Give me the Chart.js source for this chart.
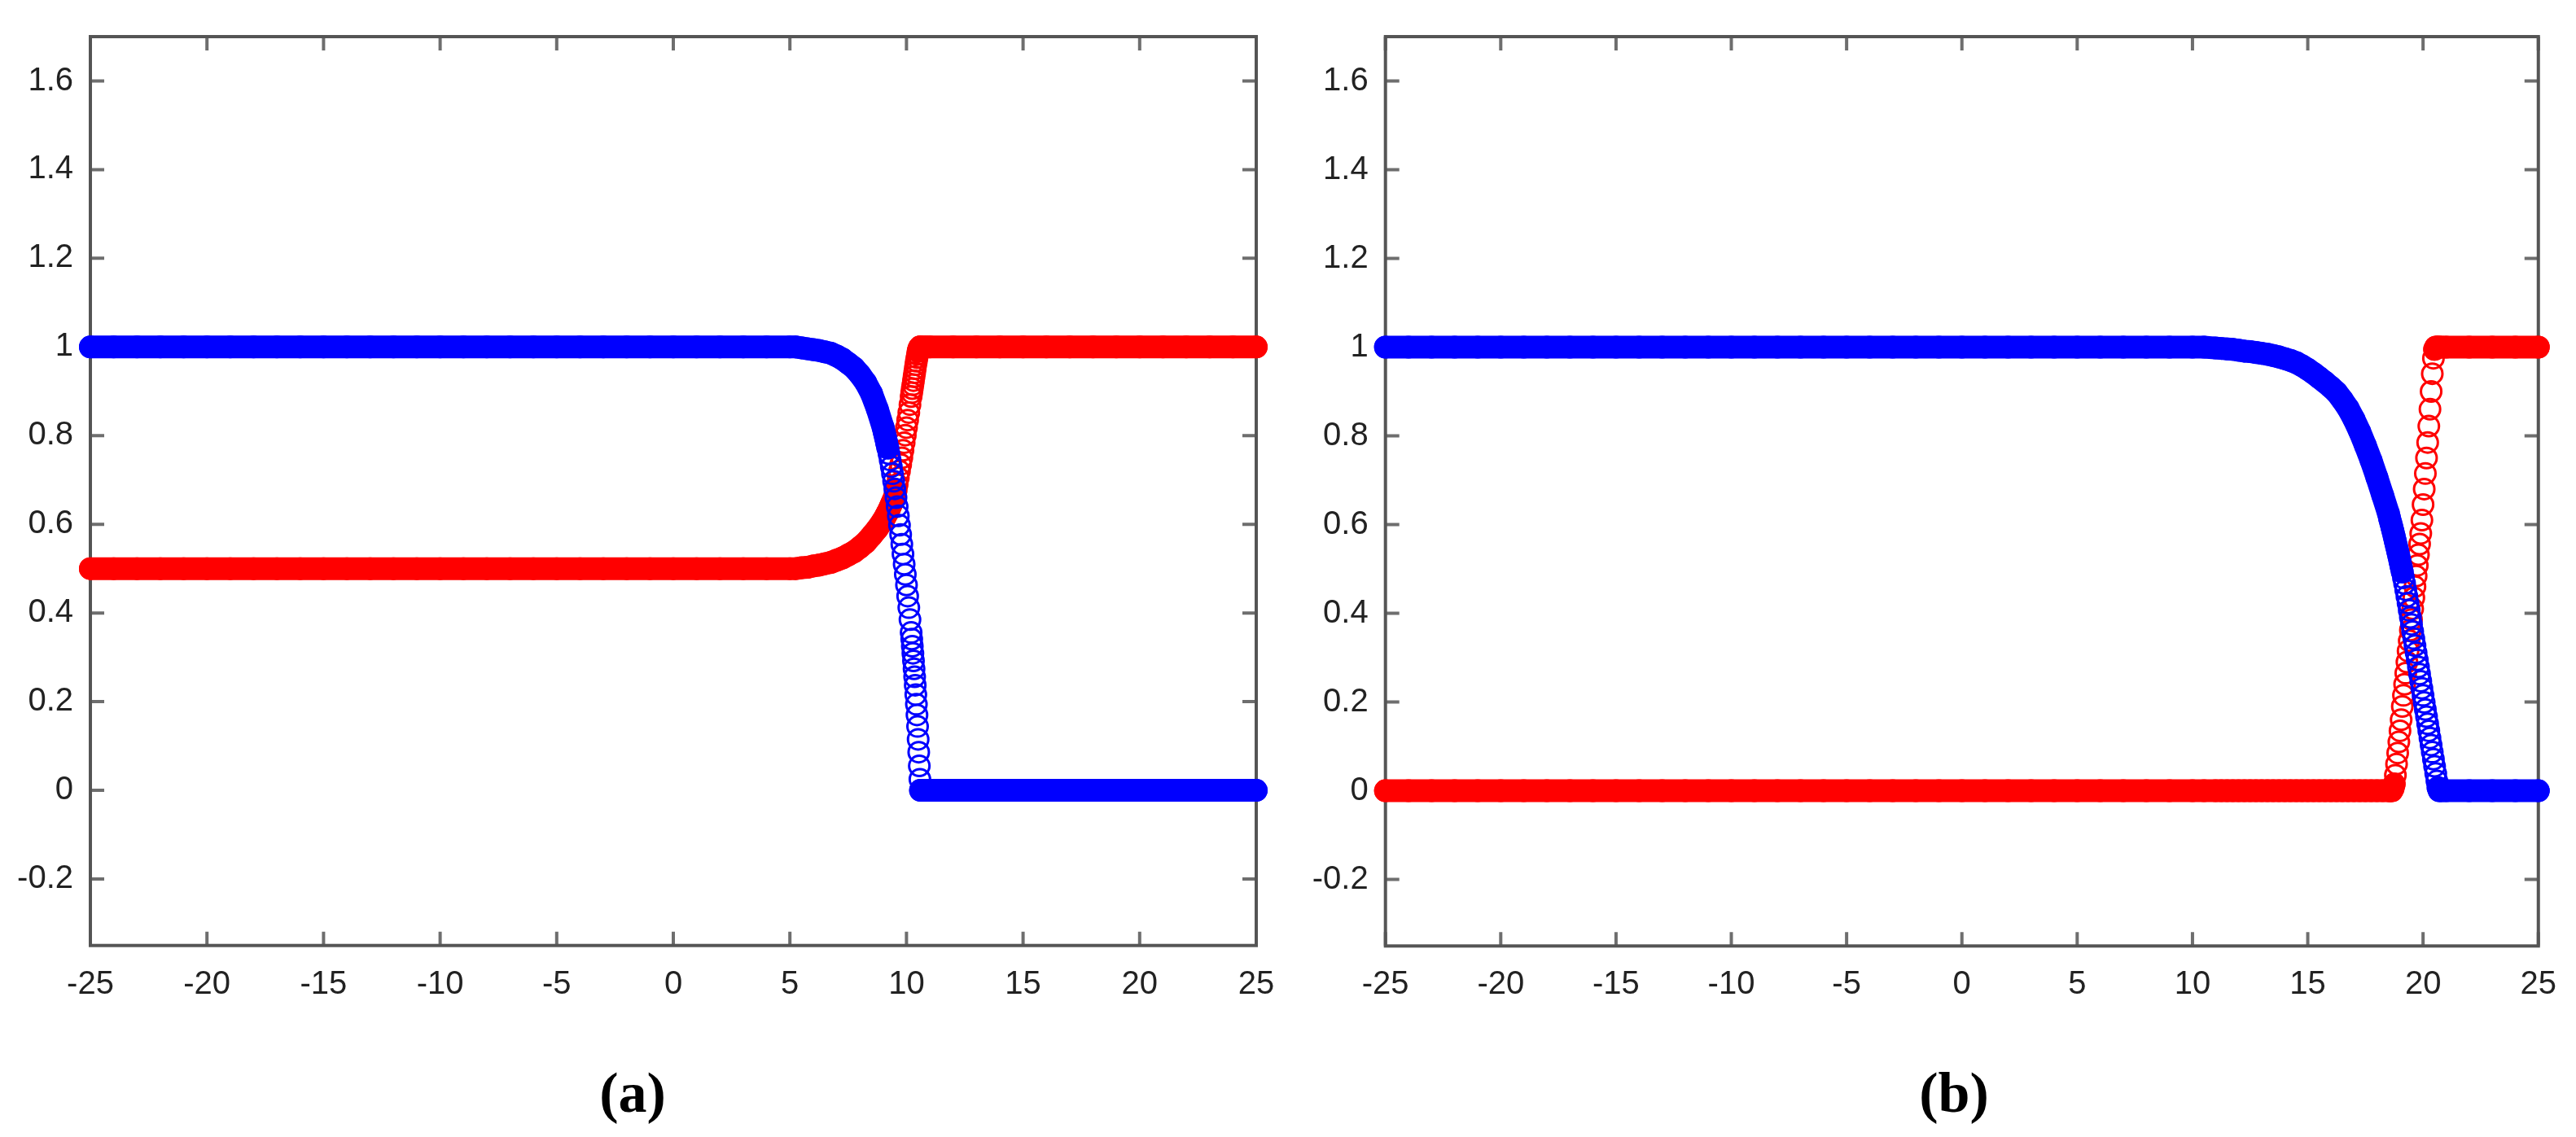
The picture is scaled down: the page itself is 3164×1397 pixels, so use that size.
<!DOCTYPE html>
<html>
<head>
<meta charset="utf-8">
<script src="https://cdn.jsdelivr.net/npm/chart.js@4.4.0/dist/chart.umd.min.js"></script>
<style>
  html, body { margin: 0; padding: 0; background: #fff; }
  body { width: 3164px; height: 1397px; position: relative; overflow: hidden; }
  canvas { position: absolute; top: 0; }
  #chartA { left: 0; }
  #chartB { left: 1590px; }
  .cap { position: absolute; top: 1308px; font: bold 70px "Liberation Serif", "Times New Roman", serif; line-height: 1; color: #000; transform: translateX(-50%); }
</style>
</head>
<body>
<canvas id="chartA" width="1590" height="1290"></canvas>
<canvas id="chartB" width="1574" height="1290"></canvas>
<div class="cap" style="left:777px">(a)</div>
<div class="cap" style="left:2400px">(b)</div>

<script>
// tick labels (same on both panels)
const xTicks = [-25, -20, -15, -10, -5, 0, 5, 10, 15, 20, 25];
const yTicks = [-0.2, 0, 0.2, 0.4, 0.6, 0.8, 1, 1.2, 1.4, 1.6];

// panel (a)
const xA = [
  -25,-24,-23,-22,-21,-20,-19,-18,-17,-16,-15,-14,-13,-12,-11,-10,-9,-8,-7,-6,-5,-4,-3,-2,-1,0,1,2,3,4,5,
  5.25,5.5,5.75,6,6.25,6.5,6.75,7,7.25,7.5,7.75,8,8.25,8.5,8.75,
  9,9.05,9.1,9.15,9.2,9.25,9.3,9.35,9.4,9.45,9.5,9.55,9.6,9.65,9.7,9.75,9.8,9.85,9.9,9.95,
  10,10.05,10.1,10.15,10.2,10.225,10.25,10.275,10.3,10.325,10.35,10.375,10.4,10.425,10.45,10.475,10.5,10.525,10.55,10.575,10.6,
  10.8,11,12,13,14,15,16,17,18,19,20,21,22,23,24,25
];
const blueA = [
  1,1,1,1,1,1,1,1,1,1,1,1,1,1,1,1,1,1,1,1,1,1,1,1,1,1,1,1,1,1,1,
  1,0.998,0.996,0.994,0.992,0.989,0.986,0.98,0.973,0.963,0.953,0.938,0.92,0.895,0.86,
  0.818,0.807,0.796,0.784,0.772,0.759,0.745,0.73,0.714,0.697,0.68,0.66,0.64,0.619,0.598,0.577,0.555,0.533,0.51,0.487,
  0.463,0.438,0.412,0.385,0.356,0.341,0.325,0.309,0.292,0.274,0.256,0.237,0.216,0.194,0.17,0.144,0.115,0.086,0.055,0.025,0,
  0,0,0,0,0,0,0,0,0,0,0,0,0,0,0,0
];
const redA = [
  0.5,0.5,0.5,0.5,0.5,0.5,0.5,0.5,0.5,0.5,0.5,0.5,0.5,0.5,0.5,0.5,0.5,0.5,0.5,0.5,0.5,0.5,0.5,0.5,0.5,0.5,0.5,0.5,0.5,0.5,0.5,
  0.5,0.502,0.503,0.506,0.508,0.511,0.514,0.519,0.524,0.531,0.538,0.548,0.559,0.574,0.59,
  0.609,0.613,0.618,0.623,0.628,0.633,0.639,0.645,0.651,0.657,0.664,0.676,0.69,0.705,0.72,0.735,0.75,0.767,0.784,0.801,
  0.818,0.835,0.852,0.87,0.888,0.897,0.906,0.915,0.924,0.933,0.942,0.951,0.96,0.968,0.976,0.983,0.99,0.995,0.998,1,1,
  1,1,1,1,1,1,1,1,1,1,1,1,1,1,1,1
];

// panel (b)
const xB = [
  -25,-24,-23,-22,-21,-20,-19,-18,-17,-16,-15,-14,-13,-12,-11,-10,-9,-8,-7,-6,-5,-4,-3,-2,-1,0,1,2,3,4,5,6,7,8,9,10,
  10.5,11,11.25,11.5,11.75,12,12.25,12.5,12.75,13,13.25,13.5,13.75,14,14.25,14.5,14.75,15,15.25,15.5,15.75,16,16.25,16.5,16.75,17,17.25,17.5,17.75,18,18.25,18.5,
  18.55,18.6,18.65,18.7,18.75,18.8,18.85,18.9,18.95,19,
  19.05,19.1,19.15,19.2,19.25,19.3,19.35,19.4,19.45,19.5,19.55,19.6,19.65,19.7,19.75,19.8,19.85,19.9,19.95,20,
  20.05,20.1,20.15,20.2,20.25,20.3,20.35,20.4,20.45,20.5,20.55,20.6,20.65,20.7,
  20.8,21,22,23,24,25
];
const blueB = [
  1,1,1,1,1,1,1,1,1,1,1,1,1,1,1,1,1,1,1,1,1,1,1,1,1,1,1,1,1,1,1,1,1,1,1,1,
  1,0.998,0.997,0.996,0.995,0.993,0.991,0.99,0.988,0.986,0.984,0.981,0.978,0.974,0.97,0.965,0.958,0.95,0.941,0.931,0.921,0.91,0.898,0.881,0.862,0.838,0.81,0.778,0.744,0.706,0.666,0.625,
  0.614,0.604,0.594,0.584,0.573,0.562,0.551,0.54,0.529,0.517,
  0.505,0.493,0.48,0.467,0.453,0.438,0.423,0.407,0.391,0.375,0.359,0.343,0.327,0.311,0.295,0.279,0.263,0.247,0.231,0.215,
  0.199,0.183,0.167,0.151,0.135,0.119,0.103,0.087,0.071,0.055,0.039,0.022,0.007,0,
  0,0,0,0,0,0
];
const redB = [
  0,0,0,0,0,0,0,0,0,0,0,0,0,0,0,0,0,0,0,0,0,0,0,0,0,0,0,0,0,0,0,0,0,0,0,0,
  0,0,0,0,0,0,0,0,0,0,0,0,0,0,0,0,0,0,0,0,0,0,0,0,0,0,0,0,0,0,0,0,
  0,0,0,0.005,0.015,0.035,0.06,0.085,0.11,0.135,
  0.16,0.19,0.215,0.24,0.265,0.29,0.315,0.338,0.362,0.386,0.41,0.435,0.46,0.484,0.508,0.532,0.556,0.58,0.61,0.645,
  0.68,0.715,0.75,0.785,0.822,0.86,0.9,0.94,0.975,0.995,1,1,1,1,
  1,1,1,1,1,1
];

[[xA, blueA, redA], [xB, blueB, redB]].forEach(([x, b, r]) => {
  if (x.length !== b.length || x.length !== r.length) console.error('length mismatch', x.length, b.length, r.length);
});

const BLUE = '#0000ff';
const RED = '#ff0000';
const NONE = 'rgba(0,0,0,0)';

function pts(xs, ys) {
  return xs.map((x, i) => ({ x: x, y: ys[i] }));
}

// the dense markers of the original merge into a solid band where the curve is flat,
// so those stretches get a thick line under the hollow circles
function series(xs, ys, color) {
  return {
    data: pts(xs, ys),
    showLine: true,
    borderColor: color,
    borderWidth: 28,
    borderCapStyle: 'round',
    borderJoinStyle: 'round',
    pointRadius: 12.5,
    pointBorderWidth: 3,
    pointBorderColor: color,
    pointBackgroundColor: NONE,
    clip: false,
    segment: {
      borderColor: ctx => {
        const s = (ctx.p1.parsed.y - ctx.p0.parsed.y) / (ctx.p1.parsed.x - ctx.p0.parsed.x);
        return Math.abs(s) < 0.25 ? color : NONE;
      }
    }
  };
}

// box round the plot with inward ticks on all four sides
const frameTicks = {
  id: 'frameTicks',
  beforeDatasetsDraw(chart) {
    const { ctx, chartArea: a, scales } = chart;
    const tl = 17;
    ctx.save();
    ctx.strokeStyle = '#6e6e6e';
    ctx.lineWidth = 4;
    xTicks.forEach(v => {
      const px = scales.x.getPixelForValue(v);
      ctx.beginPath();
      ctx.moveTo(px, a.bottom); ctx.lineTo(px, a.bottom - tl);
      ctx.moveTo(px, a.top); ctx.lineTo(px, a.top + tl);
      ctx.stroke();
    });
    yTicks.forEach(v => {
      const py = scales.y.getPixelForValue(v);
      ctx.beginPath();
      ctx.moveTo(a.left, py); ctx.lineTo(a.left + tl, py);
      ctx.moveTo(a.right, py); ctx.lineTo(a.right - tl, py);
      ctx.stroke();
    });
    ctx.strokeStyle = '#555';
    ctx.lineWidth = 4;
    ctx.strokeRect(a.left, a.top, a.right - a.left, a.bottom - a.top);
    ctx.restore();
  }
};

function makeChart(id, xs, blue, red, box) {
  const tickFont = { family: 'Liberation Sans', size: 40 };
  return new Chart(document.getElementById(id), {
    type: 'scatter',
    data: {
      datasets: [series(xs, blue, BLUE), series(xs, red, RED)]
    },
    options: {
      responsive: false,
      animation: false,
      events: [],
      layout: { padding: { left: 0, top: box.top, right: box.right, bottom: 0 } },
      plugins: { legend: { display: false }, tooltip: { enabled: false } },
      scales: {
        x: {
          type: 'linear', min: -25, max: 25,
          grid: { display: false, drawTicks: false },
          border: { display: false },
          afterBuildTicks: s => { s.ticks = xTicks.map(v => ({ value: v })); },
          afterFit: s => { s.height = box.xh; },
          ticks: { padding: 24, color: '#222', font: tickFont, maxRotation: 0, autoSkip: false, callback: v => String(v) }
        },
        y: {
          type: 'linear', min: box.ymin, max: 1.7,
          grid: { display: false, drawTicks: false },
          border: { display: false },
          afterBuildTicks: s => { s.ticks = yTicks.map(v => ({ value: v })); },
          afterFit: s => { s.width = box.yw; },
          ticks: { padding: 21, color: '#222', font: tickFont, autoSkip: false, callback: v => String(v) }
        }
      }
    },
    plugins: [frameTicks]
  });
}

makeChart('chartA', xA, blueA, redA, { top: 31, right: 47, xh: 128.3, yw: 111, ymin: -0.35 });
makeChart('chartB', xB, blueB, redB, { top: 41.7, right: 41.4, xh: 127.7, yw: 111.7, ymin: -0.35 });
</script>
</body>
</html>
